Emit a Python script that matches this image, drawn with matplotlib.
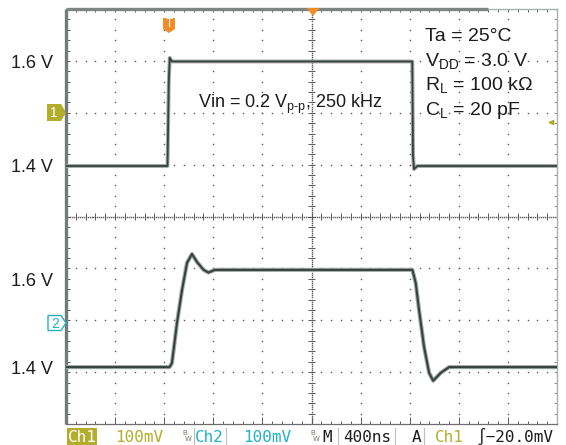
import numpy as np
import matplotlib
matplotlib.use('Agg')
import matplotlib.pyplot as plt
from matplotlib.patches import Polygon, Rectangle

plt.rcParams['font.family'] = ['Liberation Sans', 'DejaVu Sans']
plt.rcParams['mathtext.fontset'] = 'custom'
plt.rcParams['mathtext.rm'] = 'Liberation Sans'
plt.rcParams['mathtext.it'] = 'Liberation Sans:italic'
plt.rcParams['mathtext.bf'] = 'Liberation Sans:bold'

# ---------------- data (time in ns, level in V) ----------------
ch1_t = [-833, -6, 4, 12, 30, 1988, 1994, 2002, 2030, 3167]
ch1_v = [1.400, 1.400, 1.560, 1.608, 1.601, 1.601, 1.420, 1.394, 1.400, 1.400]

ch2_t = [-833, 10, 30, 71, 112, 153, 193, 234, 288, 327, 380,
         1989, 2016, 2043, 2084, 2125, 2158, 2220, 2288, 3167]
ch2_v = [1.402, 1.402, 1.411, 1.502, 1.577, 1.639, 1.659, 1.641, 1.623, 1.617, 1.623,
         1.623, 1.593, 1.532, 1.448, 1.389, 1.371, 1.389, 1.402, 1.402]

volt_ticks = [1.4, 1.6]
volt_labels = ['1.4 V', '1.6 V']
time_span = (-833, 3167)           # 400 ns/div, 10 div
ch1_span = (0.9038, 1.7019)
ch2_span = (1.2727, 2.2159)

vin_text = r'Vin = 0.2 V$_{\text{p-p}}$, 250 kHz'
cond_text = ['Ta = 25°C', r'V$_{\mathrm{DD}}$ = 3.0 V',
             r'R$_{\mathrm{L}}$ = 100 kΩ', r'C$_{\mathrm{L}}$ = 20 pF']

# ---------------- styling ----------------
OLIVE = '#b3ad2c'
CYAN = '#22b2c8'
ORANGE = '#f28c28'
DOT = '#5a5a5a'
TRACE = '#36423f'
HALO = '#a3aba8'
INK = '#1c1c1c'

W, H = 566, 445
fig = plt.figure(figsize=(W / 100, H / 100), dpi=100)
L, R, T, B = 66, 557, 9, 424
rect = [L / W, 1 - B / H, (R - L) / W, (B - T) / H]

# ---- graticule in division units ----
grid = fig.add_axes(rect)
grid.set_xlim(0, 10)
grid.set_ylim(8, 0)
grid.axis('off')
minor_x = np.arange(0, 10.001, 0.2)
minor_y = np.arange(0, 8.001, 0.2)
dot = dict(ls='none', marker='s', ms=1.0, mec='none', mfc=DOT)
for k in range(1, 10):
    if k != 5:
        grid.plot(np.full_like(minor_y, k), minor_y, **dot)
for k in range(1, 8):
    if k != 4:
        grid.plot(minor_x, np.full_like(minor_x, k), **dot)
fine_x = np.arange(0, 10.001, 0.04)
fine_y = np.arange(0, 8.001, 0.04)
grid.plot(np.full_like(fine_y, 5), fine_y, **dot)
grid.plot(fine_x, np.full_like(fine_x, 4), **dot)
tx, ty = 3.5 / 49.1, 3.5 / 51.9
grid.hlines(minor_y, 5 - tx, 5 + tx, color=DOT, lw=0.7)
grid.vlines(minor_x, 4 - ty, 4 + ty, color=DOT, lw=0.7)
grid.hlines(minor_y, 0, tx, color=DOT, lw=0.7)
grid.hlines(minor_y, 10 - tx, 10, color='#8a8a8a', lw=0.7)
grid.vlines(minor_x, 0, ty, color=DOT, lw=0.7)
grid.vlines(minor_x, 8 - ty, 8, color=DOT, lw=0.7)
grid.vlines(np.arange(0, 10.001, 1.0), 8 - 2 * ty, 8, color=DOT, lw=0.7)
# frame
grid.plot([0, 0], [0, 8], color='#737c7b', lw=2.4, solid_capstyle='butt', clip_on=False)
grid.plot([0, 8.6], [0, 0], color='#7d8685', lw=2.4, solid_capstyle='butt', clip_on=False)
grid.plot([8.6, 10], [0, 0], color='#a9afae', lw=1.0, clip_on=False)
grid.plot([10, 10], [0, 8], color='#a9afae', lw=1.0, clip_on=False)
grid.plot([0, 10], [8, 8], color='#6d6d6d', lw=0.9, clip_on=False)


def trace_axes(span):
    a = fig.add_axes(rect)
    a.patch.set_alpha(0)
    a.set_xlim(*time_span)
    a.set_ylim(*span)
    for s in a.spines.values():
        s.set_visible(False)
    a.set_xticks([])
    a.set_yticks(volt_ticks)
    a.set_yticklabels(volt_labels)
    a.tick_params(axis='y', length=0, pad=9.5, labelsize=13, labelcolor=INK)
    return a


ax1 = trace_axes(ch1_span)
ax1.plot(ch1_t, ch1_v, color=HALO, lw=2.8, solid_joinstyle='round')
ax1.plot(ch1_t, ch1_v, color=TRACE, lw=1.3, solid_joinstyle='round')

ax2 = trace_axes(ch2_span)
ax2.plot(ch2_t, ch2_v, color=HALO, lw=3.0, solid_joinstyle='round')
ax2.plot(ch2_t, ch2_v, color=TRACE, lw=1.5, solid_joinstyle='round')

# ---- overlay in pixel coordinates ----
ov = fig.add_axes([0, 0, 1, 1])
ov.set_xlim(0, W)
ov.set_ylim(H, 0)
ov.axis('off')
ov.patch.set_alpha(0)

ov.add_patch(Polygon([(47, 104), (61, 104), (66, 112.5), (61, 121), (47, 121)],
                     closed=True, fc=OLIVE, ec='none'))
ov.text(54, 113, '1', color='white', fontsize=10, ha='center', va='center')
ov.add_patch(Polygon([(48, 315.5), (61, 315.5), (66, 323), (61, 330.5), (48, 330.5)],
                     closed=True, fc='white', ec=CYAN, lw=1.0))
ov.text(55, 323.5, '2', color=CYAN, fontsize=10, ha='center', va='center')
ov.add_patch(Polygon([(163, 18), (175, 18), (175, 29), (169, 33), (163, 29)],
                     closed=True, fc=ORANGE, ec='none'))
ov.text(169, 24, 'T', color='white', fontsize=8.5, ha='center', va='center')
ov.add_patch(Polygon([(306.5, 8), (319.5, 8), (313, 16)], closed=True, fc=ORANGE, ec='none'))
ov.annotate('', xy=(545, 122.5), xytext=(556, 122.5),
            arrowprops=dict(arrowstyle='-|>', color=OLIVE, lw=1.2, mutation_scale=7))

ov.text(198, 108, vin_text, fontsize=13, color=INK, va='baseline')
for i, s in enumerate(cond_text):
    ov.text(425, 41 + 24.6 * i, s, fontsize=14, color=INK, va='baseline')

# ---- footer ----
mono = dict(family='DejaVu Sans Mono', fontsize=11.5, va='baseline')
base = 441.5
ov.add_patch(Rectangle((67, 428), 30, 17, fc=OLIVE, ec='none'))
ov.text(82, base, 'Ch1', color='white', ha='center', **mono)
ov.text(115, base, '100mV', color=OLIVE, **mono)
for bx in (182, 310):
    ov.text(bx, 435, 'B', family='DejaVu Sans', fontsize=5, color='#777766')
    ov.text(bx + 3, 441, 'W', family='DejaVu Sans', fontsize=5, color='#777766')
for lx in (194, 226, 338, 395, 424):
    ov.plot([lx, lx], [428, 445], color='#bfbfbf', lw=0.8)
ov.text(195, base, 'Ch2', color=CYAN, **mono)
ov.text(243, base, '100mV', color=CYAN, **mono)
ov.text(322, base, 'M', color=INK, **mono)
ov.text(343, base, '400ns', color=INK, **mono)
ov.text(412, base, 'A', color=INK, **mono)
ov.text(435, base, 'Ch1', color=OLIVE, **mono)
ov.text(477, base, '∫−20.0mV', color=INK, **mono)

fig.savefig('out.png', dpi=100)
